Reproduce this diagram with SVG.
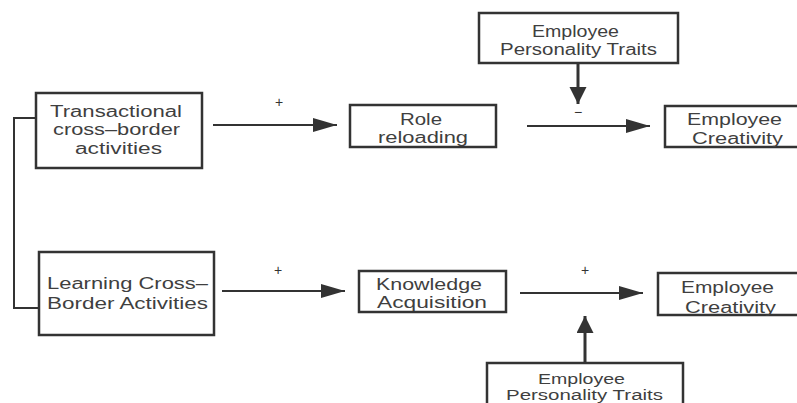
<svg xmlns="http://www.w3.org/2000/svg" width="797" height="403" viewBox="0 0 797 403">
<defs>
<style>
.box{fill:#fff;stroke:#333;stroke-width:2.5}
.t{font-family:"Liberation Sans",Arial,sans-serif;font-size:16px;fill:#3f3f3f}
.tb{font-size:14px}
.s{font-family:"Liberation Sans",Arial,sans-serif;font-size:14px;fill:#333;text-anchor:middle}
.ln{stroke:#333;stroke-width:2;fill:none}
.vln{stroke:#333;stroke-width:3;fill:none}
</style>
<marker id="ah" markerUnits="userSpaceOnUse" markerWidth="26" markerHeight="16" refX="24" refY="7" orient="auto">
<path d="M0,0 L24,7 L0,14 z" fill="#333"/>
</marker>
<marker id="av" markerUnits="userSpaceOnUse" markerWidth="20" markerHeight="20" refX="17" refY="8.5" orient="auto">
<path d="M0,0 L17,8.5 L0,17 z" fill="#333"/>
</marker>
</defs>
<g id="connectors">
<path class="ln" d="M36,118 H14 V308 H39"/>
<line class="ln" x1="213" y1="125" x2="337" y2="125" marker-end="url(#ah)"/>
<line class="ln" x1="527" y1="126" x2="650" y2="126" marker-end="url(#ah)"/>
<line class="vln" x1="578" y1="63" x2="578" y2="104" marker-end="url(#av)"/>
<line class="ln" x1="222" y1="291" x2="345" y2="291" marker-end="url(#ah)"/>
<line class="ln" x1="520" y1="293" x2="643" y2="293" marker-end="url(#ah)"/>
<line class="vln" x1="585" y1="363" x2="585" y2="316" marker-end="url(#av)"/>
<text class="s" x="279" y="107">+</text>
<text class="s" x="578" y="117">−</text>
<text class="s" x="278" y="275">+</text>
<text class="s" x="585" y="275">+</text>
</g>
<g id="transactional">
<rect class="box" x="36" y="93" width="166" height="75"/>
<text class="t" x="50" y="117" textLength="132" lengthAdjust="spacingAndGlyphs">Transactional</text>
<text class="t" x="53" y="135" textLength="127" lengthAdjust="spacingAndGlyphs">cross–border</text>
<text class="t" x="75" y="154" textLength="87" lengthAdjust="spacingAndGlyphs">activities</text>
</g>
<g id="role">
<rect class="box" x="350" y="105" width="146" height="42"/>
<text class="t" x="400" y="125" textLength="42" lengthAdjust="spacingAndGlyphs">Role</text>
<text class="t" x="378" y="143" textLength="90" lengthAdjust="spacingAndGlyphs">reloading</text>
</g>
<g id="traits-top">
<rect class="box" x="479" y="13" width="199" height="50"/>
<text class="t" x="532" y="37" textLength="87" lengthAdjust="spacingAndGlyphs">Employee</text>
<text class="t" x="500" y="55" textLength="157" lengthAdjust="spacingAndGlyphs">Personality Traits</text>
</g>
<g id="creativity-top">
<rect class="box" x="665" y="106" width="140" height="41"/>
<text class="t" x="687" y="125" textLength="95" lengthAdjust="spacingAndGlyphs">Employee</text>
<text class="t" x="692" y="144" textLength="91" lengthAdjust="spacingAndGlyphs">Creativity</text>
</g>
<g id="learning">
<rect class="box" x="39" y="252" width="175" height="83"/>
<text class="t" x="47" y="289" textLength="161" lengthAdjust="spacingAndGlyphs">Learning Cross–</text>
<text class="t" x="47" y="309" textLength="161" lengthAdjust="spacingAndGlyphs">Border Activities</text>
</g>
<g id="knowledge">
<rect class="box" x="359" y="271" width="147" height="41"/>
<text class="t" x="376" y="290" textLength="106" lengthAdjust="spacingAndGlyphs">Knowledge</text>
<text class="t" x="377" y="308" textLength="110" lengthAdjust="spacingAndGlyphs">Acquisition</text>
</g>
<g id="creativity-bottom">
<rect class="box" x="658" y="273" width="145" height="42"/>
<text class="t" x="681" y="293" textLength="93" lengthAdjust="spacingAndGlyphs">Employee</text>
<text class="t" x="685" y="313" textLength="91" lengthAdjust="spacingAndGlyphs">Creativity</text>
</g>
<g id="traits-bottom">
<rect class="box" x="487" y="363" width="196" height="60"/>
<text class="t tb" x="538" y="384" textLength="87" lengthAdjust="spacingAndGlyphs">Employee</text>
<text class="t tb" x="506" y="400" textLength="157" lengthAdjust="spacingAndGlyphs">Personality Traits</text>
</g>
</svg>
